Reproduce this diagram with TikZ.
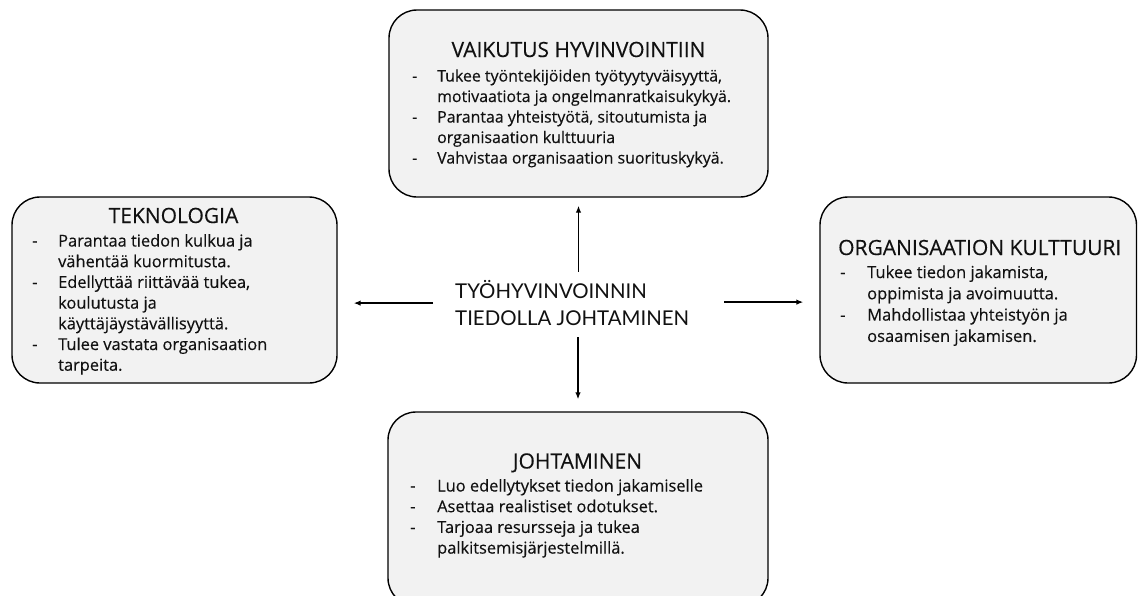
\documentclass[tikz,border=0pt]{standalone}
\usepackage{fontspec}
\setmainfont{Open Sans}[FakeBold=0.3]
\newfontfamily\latofont{Lato}
\usetikzlibrary{arrows.meta}
\definecolor{boxgray}{HTML}{F2F2F2}
\definecolor{ink}{HTML}{111111}
\tikzset{
  box/.style={draw=black, line width=1.4pt, fill=boxgray, rounded corners=28pt, inner sep=0pt},
  ttl/.style={font=\fontsize{21}{25}\selectfont, text=ink, inner sep=0pt},
  body/.style={font=\fontsize{16.4}{20.7}\selectfont, text=ink, inner sep=0pt, anchor=base west},
  topbodystyle/.style={body, font=\fontsize{15.9}{20.5}\selectfont},
  sidebody/.style={body, font=\fontsize{16.5}{21.3}\selectfont},
  hub/.style={font=\latofont\fontsize{20.4}{27}\selectfont, text=ink, inner sep=0pt, anchor=base west},
  link/.style={line width=1.3pt, -{Latex[length=7pt,width=5.5pt]}}
}
\begin{document}
\begin{tikzpicture}[x=1pt,y=-1pt]
\useasboundingbox (0,0) rectangle (1138,595);
\clip (0,0) rectangle (1138,595);
% boxes
\node[box, minimum width=379pt, minimum height=187pt] (topbox) at (578.5,103.5) {};
\node[box, minimum width=325pt, minimum height=186pt] (leftbox) at (174.5,290) {};
\node[box, minimum width=316.5pt, minimum height=186pt] (rightbox) at (978.25,290) {};
\node[box, minimum width=380pt, minimum height=194pt] (botbox) at (578,509) {};
% titles
\node[ttl, anchor=base] (toptitle) at (578.5,57) {VAIKUTUS HYVINVOINTIIN};
\node[ttl, anchor=base] (lefttitle) at (173.5,223) {TEKNOLOGIA};
\node[ttl, anchor=base west] (righttitle) at (838,255) {ORGANISAATION KULTTUURI};
\node[ttl, anchor=base] (bottitle) at (577.5,468.5) {JOHTAMINEN};
% bodies
\node[topbodystyle] (topbody) at (412,81.5) {\begin{tabular}[t]{@{}p{25pt}@{}l@{}}
- & Tukee työntekijöiden työtyytyväisyyttä,\\
  & motivaatiota ja ongelmanratkaisukykyä.\\
- & Parantaa yhteistyötä, sitoutumista ja\\
  & organisaation kulttuuria\\
- & Vahvistaa organisaation suorituskykyä.
\end{tabular}};
\node[body] (leftbody) at (32,246.5) {\begin{tabular}[t]{@{}p{26pt}@{}l@{}}
- & Parantaa tiedon kulkua ja\\
  & vähentää kuormitusta.\\
- & Edellyttää riittävää tukea,\\
  & koulutusta ja\\
  & käyttäjäystävällisyyttä.\\
- & Tulee vastata organisaation\\
  & tarpeita.
\end{tabular}};
\node[sidebody] (rightbody) at (840,278) {\begin{tabular}[t]{@{}p{27pt}@{}l@{}}
- & Tukee tiedon jakamista,\\
  & oppimista ja avoimuutta.\\
- & Mahdollistaa yhteistyön ja\\
  & osaamisen jakamisen.
\end{tabular}};
\node[body] (botbody) at (410,491.5) {\begin{tabular}[t]{@{}p{27pt}@{}l@{}}
- & Luo edellytykset tiedon jakamiselle\\
- & Asettaa realistiset odotukset.\\
- & Tarjoaa resursseja ja tukea\\
  & palkitsemisjärjestelmillä.
\end{tabular}};
% hub
\node[hub] (hub) at (455,298) {\begin{tabular}[t]{@{}l@{}}
TYÖHYVINVOINNIN\\
TIEDOLLA JOHTAMINEN
\end{tabular}};
% connectors
\draw[link, shorten <=7pt, shorten >=8pt] (hub.north -| topbox.south) -- (topbox.south);
\draw[link, shorten <=4pt, shorten >=12pt] (hub.south -| botbox.north) -- (botbox.north);
\draw[link, shorten <=22pt, shorten >=16pt] ([yshift=3pt]hub.west) -- ([yshift=3pt]hub.west -| leftbox.east);
\draw[link, shorten <=35pt, shorten >=16pt] ([yshift=4pt]hub.east) -- ([yshift=4pt]hub.east -| rightbox.west);
\end{tikzpicture}
\end{document}
